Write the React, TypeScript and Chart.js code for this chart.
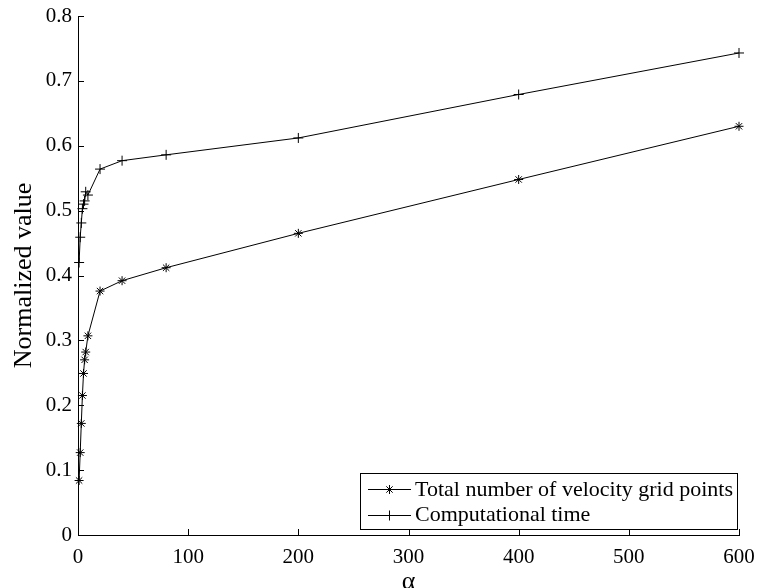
import { useEffect, useRef } from "react";
import { Chart, registerables } from "chart.js";

Chart.register(...registerables);

const alphaValues = [1, 2, 3, 4, 5, 6, 7, 9, 20, 40, 80, 200, 400, 600];
const gridPointValues = [0.084, 0.127, 0.172, 0.215, 0.249, 0.27, 0.282, 0.307, 0.376, 0.392, 0.412, 0.465, 0.548, 0.63];
const compTimeValues = [0.42, 0.459, 0.481, 0.503, 0.51, 0.515, 0.529, 0.524, 0.564, 0.577, 0.586, 0.612, 0.679, 0.743];
const seriesLabels = ["Total number of velocity grid points", "Computational time"];
const seriesMarkers = ["star", "cross"];
const xAxisTitle = "α";
const yAxisTitle = "Normalized value";

const FONT = "'Liberation Serif', 'Times New Roman', serif";

function drawMarker(ctx: CanvasRenderingContext2D, style: string, x: number, y: number, r: number) {
  ctx.beginPath();
  ctx.moveTo(x - r, y);
  ctx.lineTo(x + r, y);
  ctx.moveTo(x, y - r);
  ctx.lineTo(x, y + r);
  if (style === "star") {
    const d = r * Math.SQRT1_2;
    ctx.moveTo(x - d, y - d);
    ctx.lineTo(x + d, y + d);
    ctx.moveTo(x - d, y + d);
    ctx.lineTo(x + d, y - d);
  }
  ctx.stroke();
}

const inwardTicks = {
  id: "inwardTicks",
  afterDraw(chart: any) {
    const { ctx, chartArea, scales } = chart;
    const xs = scales.x;
    const ys = scales.y;
    const len = 6;
    ctx.save();
    ctx.strokeStyle = "#000";
    ctx.lineWidth = 1;
    ctx.beginPath();
    xs.ticks.forEach((t: any) => {
      const px = Math.round(xs.getPixelForValue(t.value)) + 0.5;
      ctx.moveTo(px, chartArea.bottom);
      ctx.lineTo(px, chartArea.bottom - len);
    });
    ys.ticks.forEach((t: any) => {
      const py = Math.round(ys.getPixelForValue(t.value)) + 0.5;
      ctx.moveTo(chartArea.left, py);
      ctx.lineTo(chartArea.left + len, py);
    });
    ctx.stroke();
    ctx.restore();
  },
};

const boxLegend = {
  id: "boxLegend",
  afterDraw(chart: any) {
    const { ctx, chartArea } = chart;
    ctx.save();
    ctx.font = `22px ${FONT}`;
    const textW = Math.max(...seriesLabels.map((s) => ctx.measureText(s).width));
    const boxRight = chartArea.right - 2;
    const boxBottom = chartArea.bottom - 6;
    const boxH = 56;
    const boxTop = boxBottom - boxH;
    const textX = boxRight - 4 - textW;
    const lineEnd = textX - 4;
    const lineStart = lineEnd - 43;
    const boxLeft = lineStart - 8;
    ctx.fillStyle = "#fff";
    ctx.fillRect(boxLeft, boxTop, boxRight - boxLeft, boxH);
    ctx.strokeStyle = "#000";
    ctx.lineWidth = 1;
    ctx.strokeRect(Math.round(boxLeft) + 0.5, Math.round(boxTop) + 0.5, Math.round(boxRight - boxLeft), boxH);
    const rows = [boxTop + 16, boxTop + 41.7];
    seriesLabels.forEach((label, i) => {
      const yRow = Math.round(rows[i]) + 0.5;
      ctx.beginPath();
      ctx.moveTo(lineStart, yRow);
      ctx.lineTo(lineEnd, yRow);
      ctx.stroke();
      drawMarker(ctx, seriesMarkers[i], (lineStart + lineEnd) / 2, yRow, i === 0 ? 4.5 : 5);
      ctx.fillStyle = "#000";
      ctx.textBaseline = "middle";
      ctx.textAlign = "left";
      ctx.fillText(label, textX, rows[i] + 1);
    });
    ctx.restore();
  },
};

export default function App() {
  const canvasRef = useRef<HTMLCanvasElement | null>(null);

  useEffect(() => {
    const canvas = canvasRef.current;
    if (!canvas) return;
    const tickFont = { family: FONT, size: 21 };
    const chart = new Chart(canvas, {
      type: "line",
      data: {
        datasets: [
          {
            label: seriesLabels[0],
            data: alphaValues.map((a, i) => ({ x: a, y: gridPointValues[i] })),
            borderColor: "#000",
            borderWidth: 1,
            pointStyle: "star",
            pointRadius: 4.5,
            pointBorderColor: "#000",
            pointBackgroundColor: "#000",
            pointBorderWidth: 1,
            tension: 0,
            fill: false,
            clip: false,
          },
          {
            label: seriesLabels[1],
            data: alphaValues.map((a, i) => ({ x: a, y: compTimeValues[i] })),
            borderColor: "#000",
            borderWidth: 1,
            pointStyle: "cross",
            pointRadius: 5,
            pointBorderColor: "#000",
            pointBackgroundColor: "#000",
            pointBorderWidth: 1,
            tension: 0,
            fill: false,
            clip: false,
          },
        ],
      },
      options: {
        animation: false,
        responsive: false,
        devicePixelRatio: 1,
        layout: { padding: { top: 16, right: 19, left: 0, bottom: 0 } },
        plugins: {
          legend: { display: false },
          tooltip: { enabled: false },
        },
        scales: {
          x: {
            type: "linear",
            min: 0,
            max: 600,
            ticks: {
              stepSize: 100,
              font: tickFont,
              color: "#000",
              padding: 10,
              maxRotation: 0,
            },
            grid: { display: false, drawTicks: false },
            border: { display: true, color: "#000", width: 1 },
            title: {
              display: true,
              text: xAxisTitle,
              font: { family: FONT, size: 26 },
              color: "#000",
              padding: { top: 0, bottom: -10 },
            },
            afterFit(scale: any) {
              scale.height = 53;
              scale.paddingLeft = 0;
              scale.paddingRight = 0;
            },
          },
          y: {
            type: "linear",
            min: 0,
            max: 0.8,
            ticks: {
              stepSize: 0.1,
              font: tickFont,
              color: "#000",
              padding: 6,
              callback: (v: any) => String(Number(Number(v).toFixed(1))),
            },
            grid: { display: false, drawTicks: false },
            border: { display: true, color: "#000", width: 1 },
            title: {
              display: true,
              text: yAxisTitle,
              font: { family: FONT, size: 26 },
              color: "#000",
              padding: { top: 9, bottom: 0 },
            },
            afterFit(scale: any) {
              scale.width = 78;
              scale.paddingTop = 0;
              scale.paddingBottom = 0;
            },
          },
        },
      },
      plugins: [inwardTicks, boxLegend],
    });
    return () => chart.destroy();
  }, []);

  return (
    <div style={{ position: "fixed", left: 0, top: 0, width: 758, height: 588, background: "#fff" }}>
      <canvas ref={canvasRef} width={758} height={588} style={{ display: "block" }} />
    </div>
  );
}
